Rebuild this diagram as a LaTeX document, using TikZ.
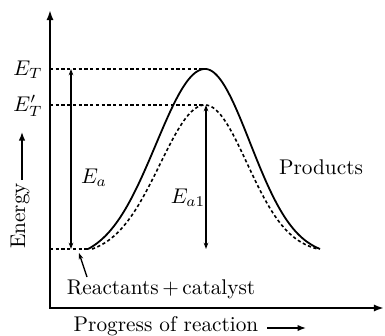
\documentclass[tikz,border=0pt]{standalone}
\usetikzlibrary{arrows.meta}
\begin{document}
\begin{tikzpicture}[x=0.47pt,y=-0.47pt,
  axis/.style={line width=0.95pt,{Latex[length=4.8pt,width=3.4pt]}-{Latex[length=4.8pt,width=3.4pt]}},
  guide/.style={line width=0.6pt,dash pattern=on 1.5pt off 1.2pt},
  dim/.style={line width=0.6pt,{Stealth[length=3pt,width=2.2pt]}-{Stealth[length=3pt,width=2.2pt]}},
  lbl/.style={inner sep=0pt,font=\normalsize}]
\useasboundingbox (0,0) rectangle (385,335);
% key points
\coordinate (ytop) at (50,10);
\coordinate (O) at (50,308);
\coordinate (xend) at (384,308);
\coordinate (ET) at (50,69);
\coordinate (EpT) at (50,105);
\coordinate (base) at (50,249);
\coordinate (start) at (88,249);
\coordinate (peak) at (205,69);
\coordinate (peak2) at (205,105);
\coordinate (a1) at (71,69);
\coordinate (a2) at (71,249);
\coordinate (b1) at (206,105);
\coordinate (b2) at (206,249);
% axes
\draw[axis] (ytop) -- (O) -- (xend);
% guide lines
\draw[guide] (ET) -- (peak);
\draw[guide] (EpT) -- (peak2);
\draw[guide] (base) -- (start);
% curves
\draw[line width=0.85pt] plot[domain=88:205,samples=80]
  (\x,{249-180*(exp(-((\x-205)^2)/(2*49^2))-0.058)/0.942})
  -- plot[domain=205:320,samples=80]
  (\x,{249-180*(exp(-((\x-205)^2)/(2*45^2))-0.038)/0.962});
\draw[line width=0.75pt,dash pattern=on 1.5pt off 1.2pt] plot[domain=92:205,samples=80]
  (\x,{249-144*(exp(-((\x-205)^2)/(2*45^2))-0.043)/0.957})
  -- plot[domain=205:318,samples=80]
  (\x,{249-144*(exp(-((\x-205)^2)/(2*42^2))-0.027)/0.973});
% dimension arrows
\draw[dim] (a1) -- (a2);
\draw[dim] (b1) -- (b2);
% labels
\node[lbl] (lET) at (28,70) {$E_T$};
\node[lbl] (lEpT) at (28,106) {$E'_T$};
\node[lbl] (lEa) at (94,178) {$E_a$};
\node[lbl] (lEa1) at (188,198) {$E_{a1}$};
\node[lbl] (prod) at (321,167) {Products};
\node[lbl] (reac) at (161,289) {Reactants\,+\,catalyst};
\draw[line width=0.6pt,-{Stealth[length=3pt,width=2.2pt]}] (87,277) -- (79,253);
\node[lbl,rotate=90] (energy) at (20,216) {Energy};
\draw[line width=0.6pt,-{Latex[length=4pt,width=3pt]}] (22,180) -- (22,132);
\node[lbl] (prog) at (166,326) {Progress of reaction};
\draw[line width=0.6pt,-{Latex[length=4pt,width=3pt]}] (267,328) -- (306,328);
\end{tikzpicture}
\end{document}
